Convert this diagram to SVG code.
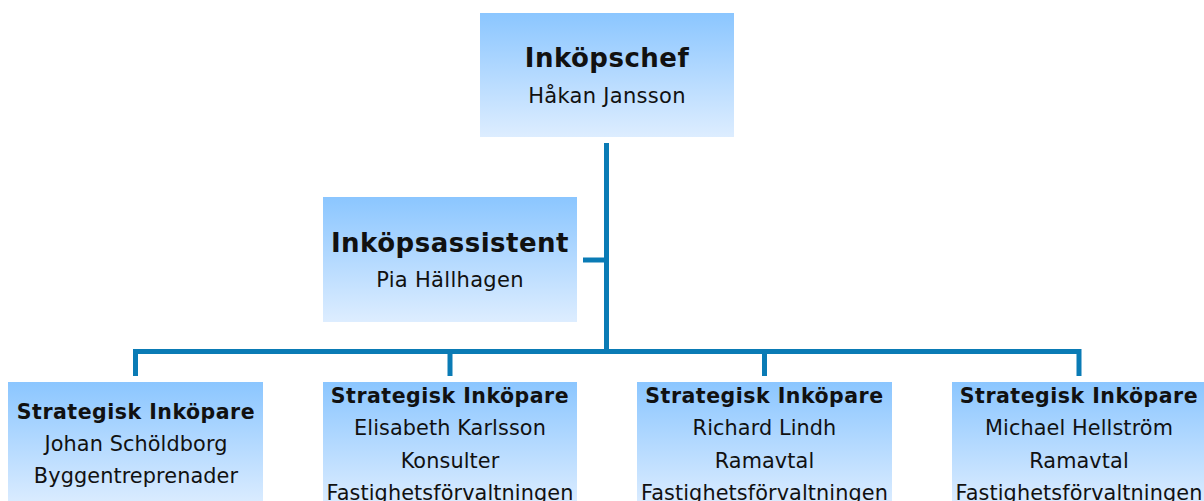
<svg xmlns="http://www.w3.org/2000/svg" width="1204" height="501" viewBox="0 0 1204 501">
<style>
.box{fill:url(#g);}
.t{font-family:"DejaVu Sans",Verdana,sans-serif;fill:#111;text-anchor:middle;}
.b1{font-weight:bold;font-size:26px;letter-spacing:0.5px;}
.b2{font-weight:bold;font-size:20.5px;letter-spacing:0.5px;}
.r{font-size:21px;letter-spacing:0.3px;}
.r2{font-size:20.8px;letter-spacing:0.1px;}
.ln{stroke:#0A7BB5;stroke-width:5;fill:none;}
</style>
<defs>
<linearGradient id="g" x1="0" y1="0" x2="0" y2="1">
<stop offset="0" stop-color="#8BC6FF"/>
<stop offset="1" stop-color="#DDEDFF"/>
</linearGradient>
</defs>
<g id="connectors">
<path class="ln" d="M606.5 143V352"/>
<path class="ln" d="M583 260H606.5"/>
<path class="ln" d="M135.5 376V351.5H1079V376"/>
<path class="ln" d="M450 351.5V376"/>
<path class="ln" d="M764.5 351.5V376"/>
</g>
<g id="n-chef">
<rect class="box" x="480" y="13" width="254" height="124"/>
<text class="t b1" x="607" y="67">Inköpschef</text>
<text class="t r" x="607" y="103">Håkan Jansson</text>
</g>
<g id="n-assistent">
<rect class="box" x="323" y="197" width="254" height="125"/>
<text class="t b1" x="450" y="252">Inköpsassistent</text>
<text class="t r" x="450" y="287">Pia Hällhagen</text>
</g>
<g id="n-johan">
<rect class="box" x="8" y="382" width="255" height="125"/>
<text class="t b2" x="136" y="419">Strategisk Inköpare</text>
<text class="t r2" x="136" y="451">Johan Schöldborg</text>
<text class="t r2" x="136" y="483">Byggentreprenader</text>
</g>
<g id="n-elisabeth">
<rect class="box" x="323" y="382" width="254" height="125"/>
<text class="t b2" x="450" y="403">Strategisk Inköpare</text>
<text class="t r2" x="450" y="435">Elisabeth Karlsson</text>
<text class="t r2" x="450" y="468">Konsulter</text>
<text class="t r2" x="450" y="500">Fastighetsförvaltningen</text>
</g>
<g id="n-richard">
<rect class="box" x="637" y="382" width="255" height="125"/>
<text class="t b2" x="764.5" y="403">Strategisk Inköpare</text>
<text class="t r2" x="764.5" y="435">Richard Lindh</text>
<text class="t r2" x="764.5" y="468">Ramavtal</text>
<text class="t r2" x="764.5" y="500">Fastighetsförvaltningen</text>
</g>
<g id="n-michael">
<rect class="box" x="952" y="382" width="255" height="125"/>
<text class="t b2" x="1079" y="403">Strategisk Inköpare</text>
<text class="t r2" x="1079" y="435">Michael Hellström</text>
<text class="t r2" x="1079" y="468">Ramavtal</text>
<text class="t r2" x="1079" y="500">Fastighetsförvaltningen</text>
</g>
</svg>
